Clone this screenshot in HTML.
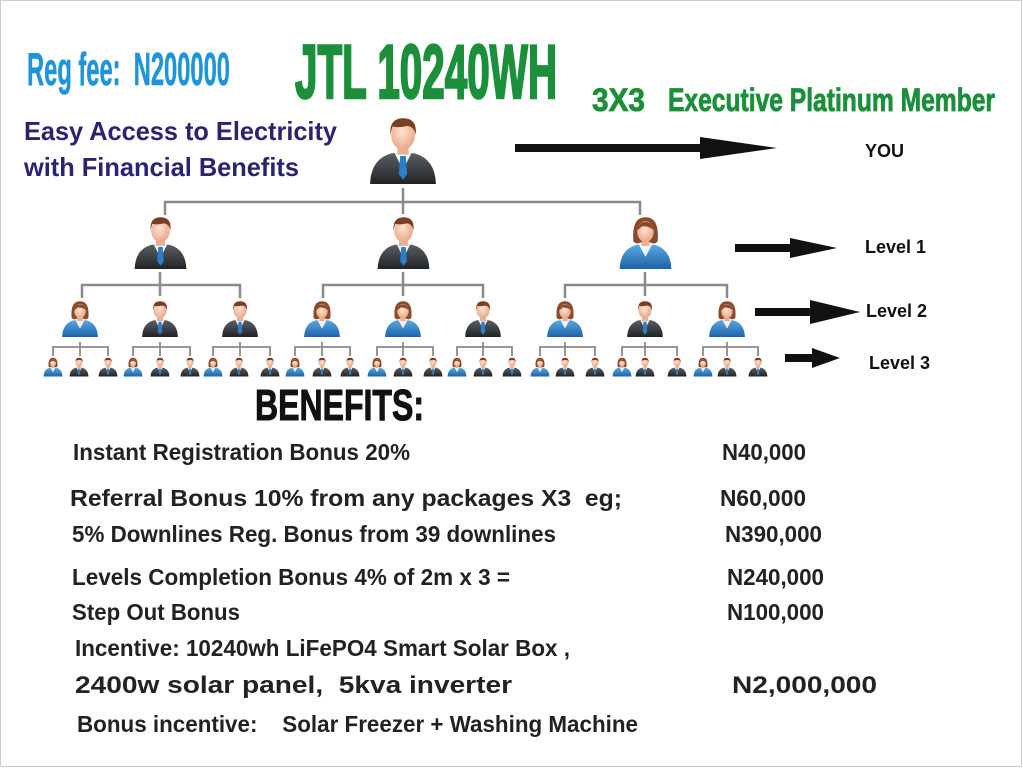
<!DOCTYPE html>
<html><head><meta charset="utf-8"><style>
html,body{margin:0;padding:0;background:#fff;}
svg{display:block;}
text{font-family:"Liberation Sans",sans-serif;white-space:pre;}
</style></head><body>
<svg width="1023" height="768" viewBox="0 0 1023 768" xmlns="http://www.w3.org/2000/svg">
<defs>
<linearGradient id="suit" x1="0" y1="0" x2="0" y2="1"><stop offset="0" stop-color="#5a5e63"/><stop offset="1" stop-color="#202326"/></linearGradient>
<linearGradient id="bsuit" x1="0" y1="0" x2="0" y2="1"><stop offset="0" stop-color="#5aa8e0"/><stop offset="1" stop-color="#1d62a8"/></linearGradient>
<radialGradient id="skin" cx="0.45" cy="0.4" r="0.6"><stop offset="0" stop-color="#fde3d2"/><stop offset="1" stop-color="#e9a888"/></radialGradient>
<symbol id="man" viewBox="0 0 100 100">
<path d="M3 100 Q4 64 34 56 L66 56 Q96 64 97 100 Z" fill="url(#suit)"/>
<path d="M38 56 L50 80 L62 56 Z" fill="#f2f4f6"/>
<path d="M46 60 L54 60 L56 86 L50 94 L44 86 Z" fill="#2a7fc8"/>
<rect x="42" y="44" width="16" height="14" fill="#e8b096"/>
<ellipse cx="50" cy="30" rx="17" ry="21" fill="url(#skin)"/>
<path d="M32 30 Q30 6 50 6 Q71 6 68 30 Q66 18 56 17 Q44 20 35 18 Q33 24 32 30Z" fill="#7a3f22"/>
</symbol>
<symbol id="woman" viewBox="0 0 100 100">
<path d="M3 100 Q4 64 34 56 L66 56 Q96 64 97 100 Z" fill="url(#bsuit)"/>
<path d="M38 56 L50 78 L62 56 Z" fill="#eef3f7"/>
<path d="M28 50 Q24 6 50 6 Q76 6 72 50 Q66 56 60 52 L40 52 Q34 56 28 50Z" fill="#8a4a2c"/>
<rect x="43" y="44" width="14" height="14" fill="#e8b096"/>
<ellipse cx="50" cy="32" rx="15" ry="19" fill="url(#skin)"/>
<path d="M35 30 Q36 14 52 14 Q62 16 66 30 Q58 22 44 22Z" fill="#8a4a2c"/>
</symbol>
</defs>
<rect x="0" y="0" width="1023" height="768" fill="#fff"/>
<rect x="0.5" y="0.5" width="1021" height="766" fill="none" stroke="#ccc"/>

<!-- header text -->
<text x="27" y="85" font-size="46" font-weight="bold" fill="#1e95d8" stroke="#1e95d8" stroke-width="0.6" textLength="203" lengthAdjust="spacingAndGlyphs">Reg fee:  N200000</text>
<text x="295" y="98" font-size="76" font-weight="bold" fill="#1b8f3a" stroke="#1b8f3a" stroke-width="2.5" textLength="262" lengthAdjust="spacingAndGlyphs">JTL 10240WH</text>
<text x="592" y="111" font-size="32" font-weight="bold" fill="#1b8f3a" stroke="#1b8f3a" stroke-width="0.8" textLength="53" lengthAdjust="spacingAndGlyphs">3X3</text>
<text x="668" y="111" font-size="32" font-weight="bold" fill="#1b8f3a" stroke="#1b8f3a" stroke-width="0.8" textLength="327" lengthAdjust="spacingAndGlyphs">Executive Platinum Member</text>
<text x="24" y="140" font-size="26" font-weight="bold" fill="#2a2470" textLength="313" lengthAdjust="spacingAndGlyphs">Easy Access to Electricity</text>
<text x="24" y="176" font-size="26" font-weight="bold" fill="#2a2470" textLength="275" lengthAdjust="spacingAndGlyphs">with Financial Benefits</text>
<text x="865" y="157" font-size="18" font-weight="bold" fill="#111">YOU</text>
<text x="865" y="253" font-size="18" font-weight="bold" fill="#111">Level 1</text>
<text x="866" y="317" font-size="18" font-weight="bold" fill="#111">Level 2</text>
<text x="869" y="369" font-size="18" font-weight="bold" fill="#111">Level 3</text>

<!-- arrows -->
<g fill="#111">
<polygon points="515,144 700,144 700,137 777,148 700,159 700,152 515,152"/>
<polygon points="735,244 790,244 790,238 837,248 790,258 790,252 735,252"/>
<polygon points="755,308 810,308 810,300 860,312 810,324 810,316 755,316"/>
<polygon points="785,354 812,354 812,348 840,358 812,368 812,362 785,362"/>
</g>

<!-- connectors -->
<g stroke="#8a8a8a" stroke-width="2.5" fill="none">
<path d="M403 188 V202 M165 215 V202 H640 V215 M403 202 V214"/>
<path d="M160 272 V285 M82 298 V285 H240 V298 M160 285 V296"/>
<path d="M403 272 V285 M323 298 V285 H483 V298 M403 285 V296"/>
<path d="M645 272 V285 M565 298 V285 H727 V298 M645 285 V296"/>
</g>
<g stroke="#8a8a8a" stroke-width="1.8" fill="none">
<path d="M80 342 V356 M53 356 V347 H108 V356"/>
<path d="M160 342 V356 M133 356 V347 H190 V356"/>
<path d="M240 342 V356 M213 356 V347 H270 V356"/>
<path d="M322 342 V356 M295 356 V347 H350 V356"/>
<path d="M403 342 V356 M377 356 V347 H433 V356"/>
<path d="M483 342 V356 M457 356 V347 H512 V356"/>
<path d="M565 342 V356 M540 356 V347 H595 V356"/>
<path d="M645 342 V356 M622 356 V347 H677 V356"/>
<path d="M727 342 V356 M703 356 V347 H758 V356"/>
</g>

<!-- people -->
<use href="#man" x="366" y="114" width="74" height="70"/>
<use href="#man" x="133" y="214" width="55" height="55"/>
<use href="#man" x="376" y="214" width="55" height="55"/>
<use href="#woman" x="618" y="214" width="55" height="55"/>

<use href="#woman" x="61" y="298" width="38" height="40"/>
<use href="#man" x="141" y="298" width="38" height="40"/>
<use href="#man" x="221" y="298" width="38" height="40"/>
<use href="#woman" x="303" y="298" width="38" height="40"/>
<use href="#woman" x="384" y="298" width="38" height="40"/>
<use href="#man" x="464" y="298" width="38" height="40"/>
<use href="#woman" x="546" y="298" width="38" height="40"/>
<use href="#man" x="626" y="298" width="38" height="40"/>
<use href="#woman" x="708" y="298" width="38" height="40"/>

<g>
<use href="#woman" x="43" y="355" width="20" height="23"/><use href="#man" x="69" y="355" width="20" height="23"/><use href="#man" x="98" y="355" width="20" height="23"/>
<use href="#woman" x="123" y="355" width="20" height="23"/><use href="#man" x="150" y="355" width="20" height="23"/><use href="#man" x="180" y="355" width="20" height="23"/>
<use href="#woman" x="203" y="355" width="20" height="23"/><use href="#man" x="229" y="355" width="20" height="23"/><use href="#man" x="260" y="355" width="20" height="23"/>
<use href="#woman" x="285" y="355" width="20" height="23"/><use href="#man" x="312" y="355" width="20" height="23"/><use href="#man" x="340" y="355" width="20" height="23"/>
<use href="#woman" x="367" y="355" width="20" height="23"/><use href="#man" x="393" y="355" width="20" height="23"/><use href="#man" x="423" y="355" width="20" height="23"/>
<use href="#woman" x="447" y="355" width="20" height="23"/><use href="#man" x="473" y="355" width="20" height="23"/><use href="#man" x="502" y="355" width="20" height="23"/>
<use href="#woman" x="530" y="355" width="20" height="23"/><use href="#man" x="555" y="355" width="20" height="23"/><use href="#man" x="585" y="355" width="20" height="23"/>
<use href="#woman" x="612" y="355" width="20" height="23"/><use href="#man" x="635" y="355" width="20" height="23"/><use href="#man" x="667" y="355" width="20" height="23"/>
<use href="#woman" x="693" y="355" width="20" height="23"/><use href="#man" x="717" y="355" width="20" height="23"/><use href="#man" x="748" y="355" width="20" height="23"/>
</g>

<!-- benefits -->
<text x="255" y="420" font-size="44" font-weight="bold" fill="#111" stroke="#111" stroke-width="1" textLength="169" lengthAdjust="spacingAndGlyphs">BENEFITS:</text>
<g font-size="23" font-weight="bold" fill="#222">
<text x="73" y="460" textLength="337" lengthAdjust="spacingAndGlyphs">Instant Registration Bonus 20%</text>
<text x="722" y="460" textLength="84" lengthAdjust="spacingAndGlyphs">N40,000</text>
<text x="70" y="506" textLength="552" lengthAdjust="spacingAndGlyphs">Referral Bonus 10% from any packages X3  eg;</text>
<text x="720" y="506" textLength="86" lengthAdjust="spacingAndGlyphs">N60,000</text>
<text x="72" y="542" textLength="484" lengthAdjust="spacingAndGlyphs">5% Downlines Reg. Bonus from 39 downlines</text>
<text x="725" y="542" textLength="97" lengthAdjust="spacingAndGlyphs">N390,000</text>
<text x="72" y="585" textLength="438" lengthAdjust="spacingAndGlyphs">Levels Completion Bonus 4% of 2m x 3 =</text>
<text x="727" y="585" textLength="97" lengthAdjust="spacingAndGlyphs">N240,000</text>
<text x="72" y="620" textLength="168" lengthAdjust="spacingAndGlyphs">Step Out Bonus</text>
<text x="727" y="620" textLength="97" lengthAdjust="spacingAndGlyphs">N100,000</text>
<text x="75" y="656" textLength="495" lengthAdjust="spacingAndGlyphs">Incentive: 10240wh LiFePO4 Smart Solar Box ,</text>
<text x="75" y="693" font-size="24" textLength="437" lengthAdjust="spacingAndGlyphs">2400w solar panel,  5kva inverter</text>
<text x="732" y="693" font-size="24" textLength="145" lengthAdjust="spacingAndGlyphs">N2,000,000</text>
<text x="77" y="732" textLength="561" lengthAdjust="spacingAndGlyphs">Bonus incentive:    Solar Freezer + Washing Machine</text>
</g>
</svg>
</body></html>
